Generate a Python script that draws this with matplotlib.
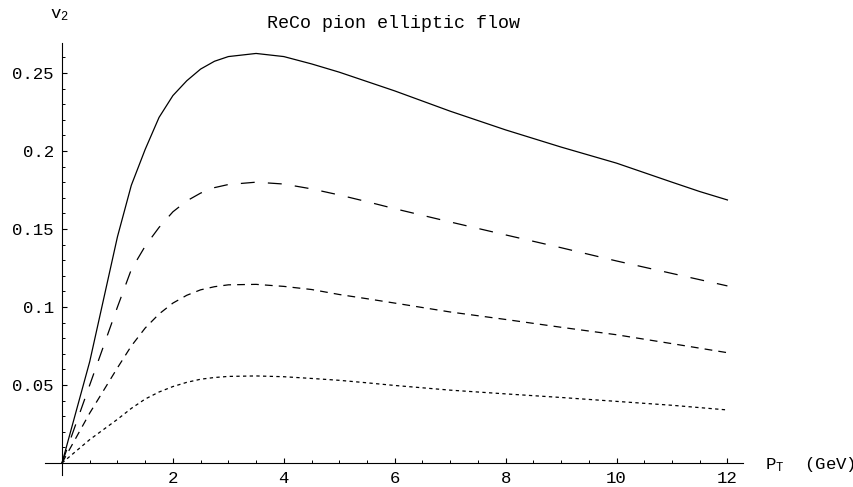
import matplotlib
matplotlib.use("Agg")
import matplotlib.pyplot as plt
from matplotlib.ticker import MultipleLocator, FixedLocator, FixedFormatter

# pT grid (GeV) and v2 values
pt = [0, 0.5, 1, 1.25, 1.5, 1.75, 2, 2.25, 2.5, 2.75, 3, 3.5, 4, 4.5, 5, 5.5, 6,
      7, 8, 9, 10, 11, 11.5, 12]
v2_solid = [0, 0.065, 0.145, 0.178, 0.201, 0.2215, 0.2355, 0.245, 0.2525, 0.2575,
            0.2605, 0.2625, 0.2605, 0.2558, 0.2505, 0.2445, 0.2385, 0.2255, 0.2135,
            0.2025, 0.1922, 0.1800, 0.1740, 0.1686]
v2_long = [0, 0.050, 0.100, 0.124, 0.139, 0.151, 0.161, 0.168, 0.173, 0.1765,
           0.1785, 0.1800, 0.1788, 0.1757, 0.1718, 0.1675, 0.1630, 0.1545, 0.1462,
           0.1380, 0.1295, 0.1215, 0.1175, 0.1135]
v2_medium = [0, 0.032, 0.061, 0.075, 0.0865, 0.0955, 0.1025, 0.1075, 0.1110, 0.1130,
             0.1142, 0.1145, 0.1132, 0.1112, 0.1080, 0.1053, 0.1025, 0.0968, 0.0920,
             0.0870, 0.0822, 0.0765, 0.0736, 0.0707]
v2_dotted = [0, 0.015, 0.028, 0.035, 0.041, 0.0455, 0.049, 0.0517, 0.0537, 0.0548,
             0.0555, 0.0558, 0.0553, 0.0542, 0.0530, 0.0514, 0.0497, 0.0467, 0.0443,
             0.0420, 0.0395, 0.0370, 0.0355, 0.0340]

xticks = [2, 4, 6, 8, 10, 12]
xticklabels = ["2", "4", "6", "8", "10", "12"]
yticks = [0.05, 0.1, 0.15, 0.2, 0.25]
yticklabels = ["0.05", "0.1", "0.15", "0.2", "0.25"]

mono = "Liberation Mono"
plt.rcParams["font.family"] = [mono, "DejaVu Sans"]
plt.rcParams["mathtext.fontset"] = "custom"
plt.rcParams["mathtext.rm"] = mono
plt.rcParams["mathtext.it"] = mono
plt.rcParams["lines.scale_dashes"] = False

fig = plt.figure(figsize=(8.54, 4.87), dpi=100)
ax = fig.add_axes([45 / 854, 1 - 475 / 487, 698 / 854, 432 / 487])

lw = 0.9
ax.plot(pt, v2_solid, color="black", lw=lw)
ax.plot(pt, v2_long, color="black", lw=lw, dashes=(10, 9.5))
ax.plot(pt, v2_medium, color="black", lw=lw, dashes=(5.6, 4.4))
ax.plot(pt, v2_dotted, color="black", lw=lw, dashes=(2.4, 2.4))

ax.set_xlim(-0.3066, 12.281)
ax.set_ylim(-0.00769, 0.2692)

for side in ["top", "right"]:
    ax.spines[side].set_visible(False)
ax.spines["left"].set_position(("data", 0))
ax.spines["bottom"].set_position(("data", 0))
for side in ["left", "bottom"]:
    ax.spines[side].set_linewidth(0.8)

ax.xaxis.set_major_locator(FixedLocator(xticks))
ax.xaxis.set_major_formatter(FixedFormatter(xticklabels))
ax.xaxis.set_minor_locator(MultipleLocator(0.5))
ax.yaxis.set_major_locator(FixedLocator(yticks))
ax.yaxis.set_major_formatter(FixedFormatter(yticklabels))
ax.yaxis.set_minor_locator(MultipleLocator(0.01))

ax.tick_params(axis="both", which="major", direction="in", length=3.8, width=0.8,
               labelsize=12.5)
ax.tick_params(axis="both", which="minor", direction="in", length=2.3, width=0.7)
ax.tick_params(axis="x", which="major", pad=5.5)
ax.tick_params(axis="y", which="major", pad=6)

fig.text(394 / 854, 1 - 23 / 487, "ReCo pion elliptic flow", ha="center", va="center",
         fontsize=13.2)
fig.text(50 / 854, 1 - 15 / 487, "v$_2$", ha="left", va="center", fontsize=12.5)
fig.text(765 / 854, 1 - 465 / 487, "P$_{\\mathrm{T}}$  (GeV)", ha="left", va="center",
         fontsize=12.5)

fig.savefig("out.png", dpi=100)
